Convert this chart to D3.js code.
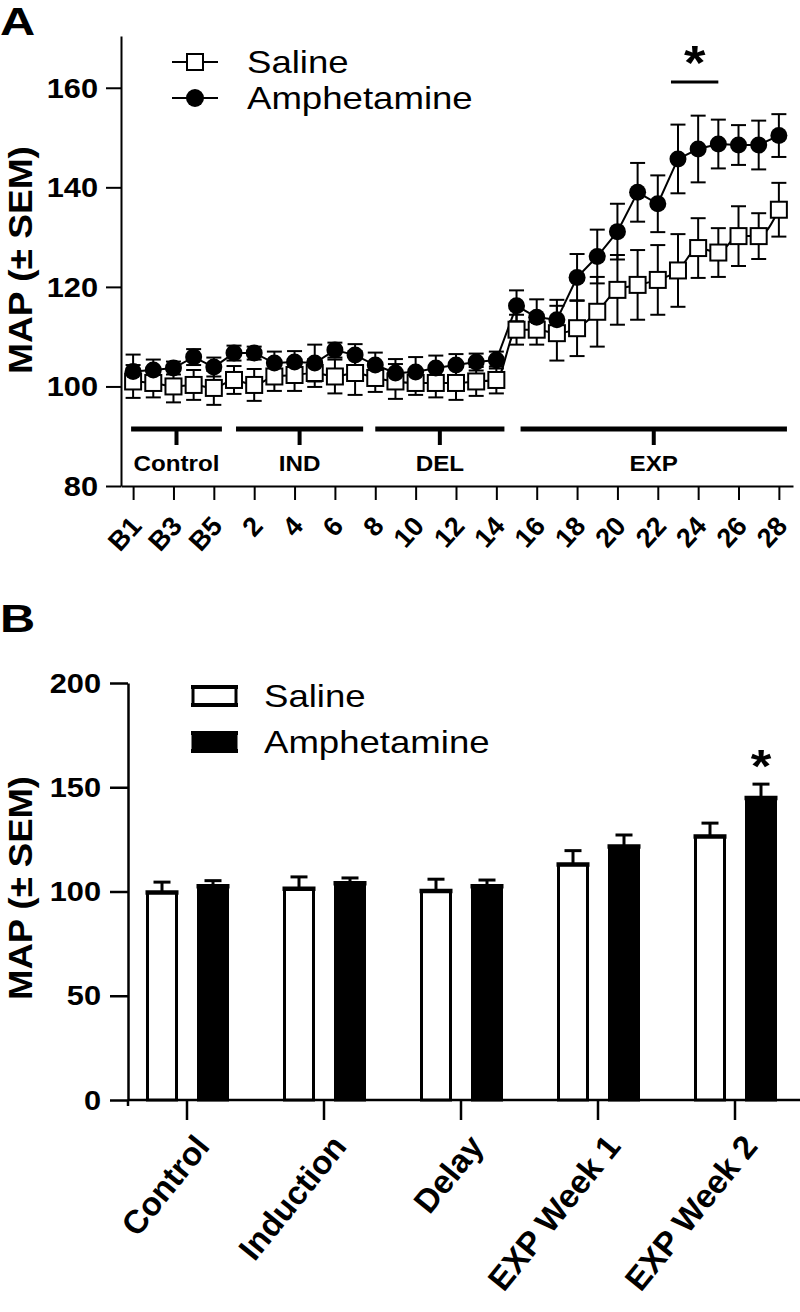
<!DOCTYPE html>
<html lang="en">
<head>
<meta charset="UTF-8">
<title>MAP - Saline vs Amphetamine</title>
<style>
  body { margin: 0; background: #fff; }
  svg text { font-family: "Liberation Sans", Arial, sans-serif; fill: #000; }
</style>
</head>
<body>
<svg id="chart" width="800" height="1312"></svg>
<script src="https://d3js.org/d3.v7.min.js"></script>
<script>
// ---- panel A data (daily MAP) ----
const dayLabels = ["B1","B2","B3","B4","B5","1","2","3","4","5","6","7","8","9","10","11","12","13","14",
                   "15","16","17","18","19","20","21","22","23","24","25","26","27","28"];
const tickLabelsA = ["B1","B3","B5","2","4","6","8","10","12","14","16","18","20","22","24","26","28"];
const salineMean = [101.0,100.7,100.0,100.3,99.7,101.3,100.3,102.0,102.3,102.7,102.0,102.7,101.7,101.0,100.7,100.7,100.7,101.0,101.3,
                    111.4,111.4,110.7,111.7,115.0,119.4,120.4,121.4,123.3,127.8,126.9,130.2,130.2,135.5];
const salineSem  = [3.3,2.9,3.2,3.0,3.4,2.8,3.2,2.9,3.2,2.8,3.4,4.4,2.8,3.5,2.4,2.9,3.4,2.9,2.7,
                    3.0,3.0,5.5,5.6,7.0,7.0,7.0,7.0,7.3,6.0,4.9,6.0,4.6,5.4];
const amphMean   = [103.0,103.3,103.7,105.9,103.9,106.7,106.7,104.7,104.9,104.7,107.3,106.3,104.3,102.7,102.9,103.7,104.3,104.9,105.3,
                    116.2,113.9,113.4,121.9,126.1,131.1,139.0,136.7,145.7,147.7,148.7,148.5,148.5,150.4];
const amphSem    = [3.4,2.1,1.3,1.6,1.9,1.5,1.3,2.3,2.2,3.7,1.5,2.2,2.5,2.8,3.0,2.5,2.2,1.7,1.7,
                    3.1,3.6,4.0,4.7,5.4,5.6,5.9,5.7,6.9,6.7,4.9,4.0,4.9,4.3];
const phaseNames = ["Control","IND","DEL","EXP"];
const phaseStart = [-0.1, 5.1, 12.0, 19.2];   // in day-index units
const phaseEnd   = [4.4, 11.4, 18.4, 32.4];
const sigDaysA = ["23","25"];

// ---- panel B data (period means) ----
const periods = ["Control","Induction","Delay","EXP Week 1","EXP Week 2"];
const groups = ["Saline","Amphetamine"];
const salineBar = [99.5,101.3,100.2,112.9,126.4];
const salineBarSem = [5.0,5.7,5.7,6.7,6.4];
const amphBar = [102.5,104.0,102.5,121.6,144.9];
const amphBarSem = [2.7,2.5,3.0,5.5,6.6];
const sigPeriodB = "EXP Week 2";

const svg = d3.select("#chart");

// the original lettering is a bit wide, so most text gets a horizontal stretch
function stretched(g, x, y, sx, txt, rot) {
  return g.append("text")
    .attr("transform", `translate(${x},${y}) scale(${sx},1)` + (rot ? ` rotate(${rot})` : ""))
    .text(txt);
}

// =================== PANEL A ===================
const gA = svg.append("g");
const xA = d3.scaleLinear().domain([-0.6, 32.7]).range([121, 793]);
const yA = d3.scaleLinear().domain([80, 170.4]).range([486, 36]);
const idx = l => dayLabels.indexOf(l);

stretched(gA, 0, 35, 1.25, "A").attr("font-size", 39).attr("font-weight", "bold");

// y axis
const yAxisA = gA.append("g").attr("transform", "translate(121,0)")
  .call(d3.axisLeft(yA).tickValues([80,100,120,140,160]).tickSize(15).tickSizeOuter(0).tickFormat(""));
yAxisA.selectAll("path,line").attr("stroke", "#000").attr("stroke-width", 2);
[80,100,120,140,160].forEach(v => {
  stretched(gA, 98, yA(v), 1.14, v).attr("font-size", 27).attr("font-weight", "bold")
    .attr("text-anchor", "end").attr("dy", "0.36em");
});
gA.append("text").attr("transform", "translate(32,260) rotate(-90)")
  .attr("text-anchor", "middle").attr("font-size", 33).attr("font-weight", "bold")
  .attr("textLength", 228).attr("lengthAdjust", "spacingAndGlyphs")
  .text("MAP (\u00B1 SEM)");

// x axis
const xAxisA = gA.append("g").attr("transform", `translate(0,${yA(80)})`)
  .call(d3.axisBottom(xA).tickValues(tickLabelsA.map(idx)).tickSize(14).tickSizeOuter(0).tickFormat(""));
xAxisA.selectAll("path,line").attr("stroke", "#000").attr("stroke-width", 2);
tickLabelsA.forEach(l => {
  stretched(gA, xA(idx(l)) + 10, 527, 1.0, l, -48).attr("font-size", 27).attr("font-weight", "bold")
    .attr("text-anchor", "end");
});

// phase bars
phaseNames.forEach((p, i) => {
  const a = xA(phaseStart[i]), b = xA(phaseEnd[i]), m = (a + b) / 2;
  gA.append("line").attr("x1", a).attr("x2", b).attr("y1", 429).attr("y2", 429)
    .attr("stroke", "#000").attr("stroke-width", 5);
  gA.append("line").attr("x1", m).attr("x2", m).attr("y1", 429).attr("y2", 445)
    .attr("stroke", "#000").attr("stroke-width", 4);
  stretched(gA, m, 471, 1.1, p).attr("font-size", 22).attr("font-weight", "bold").attr("text-anchor", "middle");
});

// error bars
function errBars(g, mean, sem) {
  mean.forEach((m, i) => {
    const x = xA(i), y1 = yA(m - sem[i]), y2 = yA(m + sem[i]);
    g.append("line").attr("x1", x).attr("x2", x).attr("y1", y1).attr("y2", y2);
    g.append("line").attr("x1", x - 7.5).attr("x2", x + 7.5).attr("y1", y1).attr("y2", y1);
    g.append("line").attr("x1", x - 7.5).attr("x2", x + 7.5).attr("y1", y2).attr("y2", y2);
  });
}
const errG = gA.append("g").attr("stroke", "#000").attr("stroke-width", 2);
errBars(errG, salineMean, salineSem);
errBars(errG, amphMean, amphSem);

gA.append("path").datum(salineMean)
  .attr("d", d3.line().x((d, i) => xA(i)).y(d => yA(d)).curve(d3.curveMonotoneX))
  .attr("fill", "none").attr("stroke", "#000").attr("stroke-width", 2);
gA.append("path").datum(amphMean)
  .attr("d", d3.line().x((d, i) => xA(i)).y(d => yA(d)))
  .attr("fill", "none").attr("stroke", "#000").attr("stroke-width", 2);

const sq = 16;
gA.selectAll(".sq").data(salineMean).join("rect")
  .attr("x", (d, i) => xA(i) - sq / 2).attr("y", d => yA(d) - sq / 2)
  .attr("width", sq).attr("height", sq)
  .attr("fill", "#fff").attr("stroke", "#000").attr("stroke-width", 2);
gA.selectAll(".ci").data(amphMean).join("circle")
  .attr("cx", (d, i) => xA(i)).attr("cy", d => yA(d)).attr("r", 8.5).attr("fill", "#000");

// significance bar
const sa = xA(idx(sigDaysA[0])) - 7, sb = xA(idx(sigDaysA[1]));
gA.append("line").attr("x1", sa).attr("x2", sb).attr("y1", 82).attr("y2", 82)
  .attr("stroke", "#000").attr("stroke-width", 3);
stretched(gA, (sa + sb) / 2, 79, 1.15, "*").attr("font-size", 48).attr("font-weight", "bold").attr("text-anchor", "middle");

// legend A
const legA = gA.append("g");
[["Saline", 62], ["Amphetamine", 98]].forEach(([name, y]) => {
  legA.append("line").attr("x1", 172).attr("x2", 218).attr("y1", y).attr("y2", y)
    .attr("stroke", "#000").attr("stroke-width", 2);
  if (name === "Saline") {
    legA.append("rect").attr("x", 195 - sq / 2).attr("y", y - sq / 2).attr("width", sq).attr("height", sq)
      .attr("fill", "#fff").attr("stroke", "#000").attr("stroke-width", 2);
  } else {
    legA.append("circle").attr("cx", 195).attr("cy", y).attr("r", 9).attr("fill", "#000");
  }
  stretched(legA, 247, y + 11, 1.2, name).attr("font-size", 30.5);
});

// =================== PANEL B ===================
const gB = svg.append("g");
const xB = d3.scaleBand().domain(periods).range([118.5, 803.5]);
const xSub = d3.scalePoint().domain(groups).range([-25, 26]);
const yB = d3.scaleLinear().domain([0, 200]).range([1100, 683]);
const barW = 29;

stretched(gB, 0, 632, 1.25, "B").attr("font-size", 39).attr("font-weight", "bold");

const yAxisB = gB.append("g").attr("transform", "translate(128,0)")
  .call(d3.axisLeft(yB).tickValues([0,50,100,150,200]).tickSize(18).tickSizeOuter(0).tickFormat(""));
yAxisB.selectAll("path,line").attr("stroke", "#000").attr("stroke-width", 2.5);
gB.append("line").attr("x1", 128).attr("x2", 128).attr("y1", 1100).attr("y2", 1106)
  .attr("stroke", "#000").attr("stroke-width", 2.5);
[0,50,100,150,200].forEach(v => {
  stretched(gB, 101, yB(v), 1.14, v).attr("font-size", 27).attr("font-weight", "bold")
    .attr("text-anchor", "end").attr("dy", "0.36em");
});
gB.append("text").attr("transform", "translate(32,888) rotate(-90)")
  .attr("text-anchor", "middle").attr("font-size", 33).attr("font-weight", "bold")
  .attr("textLength", 224).attr("lengthAdjust", "spacingAndGlyphs")
  .text("MAP (\u00B1 SEM)");

const xAxisB = gB.append("g").attr("transform", "translate(0,1100)")
  .call(d3.axisBottom(xB).tickSize(20).tickSizeOuter(0).tickFormat(""));
xAxisB.select(".domain").remove();
xAxisB.selectAll("line").attr("stroke", "#000").attr("stroke-width", 2.5);
gB.append("line").attr("x1", 128).attr("x2", 800).attr("y1", 1100).attr("y2", 1100)
  .attr("stroke", "#000").attr("stroke-width", 2.5);

periods.forEach(p => {
  stretched(gB, xB(p) + xB.bandwidth() / 2 + 24, 1147, 1.0, p, -51)
    .attr("font-size", 33).attr("font-weight", "bold").attr("text-anchor", "end");
});

function drawBars(vals, sems, grp, fill) {
  vals.forEach((v, i) => {
    const cx = xB(periods[i]) + xB.bandwidth() / 2 + xSub(grp);
    const top = yB(v), eTop = yB(v + sems[i]);
    gB.append("line").attr("x1", cx).attr("x2", cx).attr("y1", top).attr("y2", eTop)
      .attr("stroke", "#000").attr("stroke-width", 3);
    gB.append("line").attr("x1", cx - 8.5).attr("x2", cx + 8.5).attr("y1", eTop).attr("y2", eTop)
      .attr("stroke", "#000").attr("stroke-width", 3);
    gB.append("rect").attr("x", cx - barW / 2).attr("y", top).attr("width", barW).attr("height", yB(0) - top)
      .attr("fill", fill).attr("stroke", "#000").attr("stroke-width", 3);
    gB.append("line").attr("x1", cx - barW / 2 - 2).attr("x2", cx + barW / 2 + 2).attr("y1", top).attr("y2", top)
      .attr("stroke", "#000").attr("stroke-width", 4.5);
  });
}
drawBars(salineBar, salineBarSem, "Saline", "#fff");
drawBars(amphBar, amphBarSem, "Amphetamine", "#000");

// significance star B
const si = periods.indexOf(sigPeriodB);
const sx = xB(sigPeriodB) + xB.bandwidth() / 2 + xSub("Amphetamine");
stretched(gB, sx, yB(amphBar[si] + amphBarSem[si]) - 2, 1.15, "*")
  .attr("font-size", 46).attr("font-weight", "bold").attr("text-anchor", "middle");

// legend B
[["Saline", 696, "#fff"], ["Amphetamine", 742, "#000"]].forEach(([name, y, fill]) => {
  gB.append("rect").attr("x", 193).attr("y", y - 9).attr("width", 43).attr("height", 18)
    .attr("fill", fill).attr("stroke", "#000").attr("stroke-width", 3);
  gB.append("line").attr("x1", 191).attr("x2", 238).attr("y1", y - 9).attr("y2", y - 9)
    .attr("stroke", "#000").attr("stroke-width", 4);
  gB.append("line").attr("x1", 191).attr("x2", 238).attr("y1", y + 9).attr("y2", y + 9)
    .attr("stroke", "#000").attr("stroke-width", 4);
  stretched(gB, 264, y + 11, 1.18, name).attr("font-size", 31);
});
</script>
</body>
</html>
